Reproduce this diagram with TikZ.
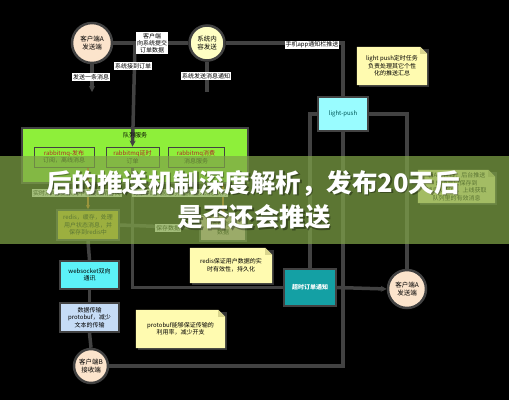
\documentclass[tikz,border=0pt]{standalone}
\usepackage{fontspec}
\setmainfont{Noto Sans CJK SC}
\usetikzlibrary{arrows.meta,calc}
\pgfdeclarelayer{bottom}
\pgfdeclarelayer{background}
\pgfdeclarelayer{top}
\pgfsetlayers{bottom,background,main,top}
\definecolor{linegray}{HTML}{424242}
\definecolor{peach}{HTML}{FCE4CC}
\definecolor{paleyel}{HTML}{FFFFC4}
\definecolor{notey}{HTML}{FFFBB0}
\definecolor{foldy}{HTML}{D9D58E}
\definecolor{lpcyan}{HTML}{99FCFF}
\definecolor{wscyan}{HTML}{5CF2F8}
\definecolor{pbblue}{HTML}{C6DCF6}
\definecolor{tealbox}{HTML}{14A0A4}
\definecolor{limeg}{HTML}{8EEF3A}
\definecolor{redisy}{HTML}{E6CF2A}
\definecolor{pinkb}{HTML}{E2BFC0}
\definecolor{rmqred}{HTML}{B02A2A}
\definecolor{orangea}{HTML}{E07020}
\definecolor{bandg}{RGB}{128,164,72}
\tikzset{
  conn/.style={draw=linegray, line width=3.5pt},
  tipd/.style={-{Stealth[length=6pt,width=6pt]}},
  oconn/.style={draw=orangea, line width=1.2pt, -{Stealth[length=4pt,width=4pt]}},
  lbl/.style={fill=white, inner sep=1pt, text=black, font=\fontsize{6}{7}\selectfont, align=center},
  circ/.style={circle, draw=linegray, line width=2.5pt, inner sep=0pt, font=\fontsize{6.5}{8}\selectfont, align=center, text=black},
  box/.style={rectangle, draw=linegray, line width=2pt, inner sep=1pt, font=\fontsize{6}{7.5}\selectfont, align=center, text=black},
  subbox/.style={rectangle, draw=linegray, line width=0.8pt, fill=limeg, inner sep=1pt, font=\fontsize{6}{7.5}\selectfont, align=center},
  note/.style={rectangle, inner sep=1pt, font=\fontsize{6}{7.5}\selectfont, align=center, text=black},
  titletext/.style={font=\bfseries\fontsize{25.5}{30}\selectfont},
}
\newcommand{\notebg}[1]{%
  \fill[black!60, opacity=0.5] ($(#1.south west)+(2,2)$) rectangle ($(#1.north east)+(2,2)$);
  \fill[notey] (#1.south west) -- (#1.south east) -- ($(#1.north east)+(0,7)$) -- ($(#1.north east)+(-7,0)$) -- (#1.north west) -- cycle;
  \fill[foldy] ($(#1.north east)+(-7,0)$) -- ($(#1.north east)+(-7,7)$) -- ($(#1.north east)+(0,7)$) -- cycle;
}
\begin{document}
\begin{tikzpicture}[x=1pt,y=-1pt]
\begin{pgfonlayer}{bottom}
\fill[black] (0,0) rectangle (509,400);
\node[rectangle, draw=linegray, line width=2pt, fill=limeg, minimum width=226pt, minimum height=55pt] (queue) at (135,155.5) {};
\end{pgfonlayer}
\useasboundingbox (0,0) rectangle (509,400);

% ---------- lime box contents ----------
\node[font=\fontsize{6}{7}\selectfont] (qt) at (135,135) {队列服务};
\node[subbox, minimum width=60pt, minimum height=20pt] (pub) at (64,157) {\textcolor{rmqred}{rabbitmq-发布}\\订阅，离线消息};
\node[subbox, minimum width=53pt, minimum height=20pt] (delay) at (132.5,157) {\textcolor{rmqred}{rabbitmq延时}\\订单};
\node[subbox, minimum width=56pt, minimum height=20pt] (cons) at (196,157) {\textcolor{rmqred}{rabbitmq消费}\\消息服务};

% ---------- nodes ----------
\node[circ, fill=peach, minimum size=40pt] (A1) at (92,43) {客户端A\\发送端};
\node[circ, fill=paleyel, minimum size=35pt] (S) at (207,43) {系统内\\容发送};
\node[box, fill=lpcyan, minimum width=50pt, minimum height=34pt, text=teal!70!black] (lp) at (343,114) {light-push};
\node[box, fill=tealbox, minimum width=52pt, minimum height=37pt, text=white, font=\bfseries\fontsize{6}{7.5}\selectfont] (cs) at (310,287.5) {超时订单通知};
\node[circ, fill=peach, minimum size=38pt] (A2) at (407,289) {客户端A\\发送端};
\node[box, fill=redisy, minimum width=62pt, minimum height=30pt] (redis) at (88,225) {redis，缓存，处理\\用户状态消息，并\\保存到redis中};
\node[box, fill=pinkb, minimum width=46pt, minimum height=26pt] (pink) at (223,228) {消费消息\\数据};
\node[box, fill=wscyan, minimum width=59pt, minimum height=28pt] (ws) at (89.5,275) {websocket双向\\通讯};
\node[box, fill=pbblue, minimum width=59pt, minimum height=29pt] (pb) at (89.5,317.5) {数据传输\\protobuf，减少\\文本的传输};
\node[circ, fill=peach, minimum size=34pt] (B) at (91,366) {客户端B\\接收端};

% ---------- notes ----------
\node[note, minimum width=70pt, minimum height=38pt] (n1) at (392,66) {};
\node[note, minimum width=82pt, minimum height=35pt] (n2) at (231,265.5) {};
\node[note, minimum width=89pt, minimum height=38pt] (n3) at (180.5,329) {};
\node[note, minimum width=77pt, minimum height=33pt] (n4) at (456.5,186.5) {};
\notebg{n1}
\notebg{n2}
\notebg{n3}
\notebg{n4}
\node[note] (n1t) at (n1) {light push定时任务\\负责处理其它个性\\化的推送汇总};
\node[note] (n2t) at (n2) {redis保证用户数据的实\\时有效性，持久化};
\node[note] (n3t) at (n3) {protobuf能够保证传输的\\利用率，减少开支};
\node[note] (n4t) at (n4) {若A不在线，后台推送\\的消息只保存到\\消息队列中，上线获取\\队列里的有效消息};

% ---------- connectors ----------
\coordinate (j1) at (135,43);
\coordinate (a1e) at (92,92);
\coordinate (s1e) at (207,92);
\coordinate (j2) at (343,43);
\coordinate (o1) at (88,167);
\coordinate (o2) at (223,184);
\begin{pgfonlayer}{background}
\draw[conn] (A1.east) -- (S.west);
\draw[conn, tipd] (j1) -- (delay.north);
\draw[conn, tipd] (A1.south) -- (a1e);
\draw[conn] (S.south) -- (s1e);
\draw[conn] (S.east) -- (j2) -- (lp.north);
\draw[conn] (lp.west) -| (cs.north);
\draw[conn] (lp.south) |- (B.east);
\draw[conn] (lp.east) -| (A2.north);
\draw[conn, tipd] (cs.east) -- (A2.west);
\draw[conn] (delay.south) |- (cs.west);
\draw[conn] (redis.south) -- (ws.north);
\draw[conn] (ws.south) -- (pb.north);
\draw[conn] (pb.south) -- (B.north);
\draw[conn] (redis.east) -- (pink.west);
\draw[oconn] (o1) -- (redis.north);
\draw[oconn] (o2) -- (pink.north);
\end{pgfonlayer}

% ---------- labels ----------
\node[lbl] (lsave) at (168,228) {保存数据};
\node[lbl] (l1) at (152,43) {客户端\\向系统提交\\订单数据};
\node[lbl] (l2) at (133,66) {系统接到订单};
\node[lbl] (l3) at (91,77) {发送一条消息};
\node[lbl] (l4) at (206,76) {系统发送消息通知};
\node[lbl] (l5) at (312,45) {手机app通知栏推送};
\node[lbl] (l6) at (77,193) {实时从A数据队列中自动取消订阅};
\node[lbl, font=\fontsize{5.5}{6.5}\selectfont] (l7) at (180,193) {订单中的数据超时，重新进入消息队列};

% ---------- overlay band ----------
\begin{pgfonlayer}{top}
\fill[bandg, opacity=0.72] (0,156) rectangle (509,244);
\node[titletext, text=black, opacity=0.35] (t1s) at (254.5,184.5) {后的推送机制深度解析，发布20天后};
\node[titletext, text=black, opacity=0.35] (t2s) at (255.5,218.5) {是否还会推送};
\node[titletext, text=white] (t1) at (253,183) {后的推送机制深度解析，发布20天后};
\node[titletext, text=white] (t2) at (254,217) {是否还会推送};
\end{pgfonlayer}
\end{tikzpicture}
\end{document}
